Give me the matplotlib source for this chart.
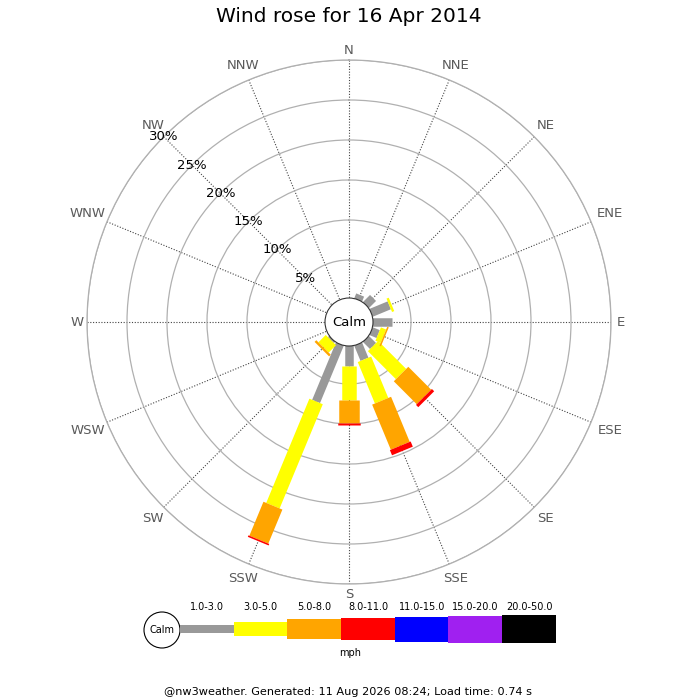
import numpy as np
import matplotlib
matplotlib.use("Agg")
import matplotlib.pyplot as plt
from matplotlib.patches import Circle, Rectangle


# wind directions, clockwise from north
directions = ["N", "NNE", "NE", "ENE", "E", "ESE", "SE", "SSE",
              "S", "SSW", "SW", "WSW", "W", "WNW", "NW", "NNW"]

# percentage of time per direction for each speed band (mph)
speed_bands = ["1.0-3.0", "3.0-5.0", "5.0-8.0", "8.0-11.0",
               "11.0-15.0", "15.0-20.0", "20.0-50.0"]
band_1_3 = [0, 0.9, 1.5, 2.7, 2.6, 1.2, 1.5, 2.3, 2.75, 8.0, 0.45, 0, 0, 0, 0, 0]
band_3_5 = [0, 0, 0, 0.3, 0, 0.7, 4.95, 5.6, 4.25, 14.1, 1.3, 0, 0, 0, 0, 0]
band_5_8 = [0, 0, 0, 0, 0, 0.2, 4.05, 6.1, 2.9, 4.6, 0.3, 0, 0, 0, 0, 0]
band_8_11 = [0, 0, 0, 0, 0, 0, 0.4, 0.7, 0.2, 0.2, 0, 0, 0, 0, 0, 0]

ring_ticks = [5, 10, 15, 20, 25, 30]
title = "Wind rose for 16 Apr 2014"
footer = "@nw3weather. Generated: 11 Aug 2026 08:24; Load time: 0.74 s"

band_colors = ["#999999", "#ffff00", "#ffa500", "#ff0000", "#0000ff", "#a020f0", "#000000"]
band_widths_px = [8.5, 14.5, 20.5, 22.5, 25, 27, 28]
PX = 0.72  # points per pixel at dpi 100

fig = plt.figure(figsize=(7, 7), dpi=100)

# overlay axes in pixel coordinates for title, legend and footer
over = fig.add_axes([0, 0, 1, 1])
over.set_xlim(0, 700)
over.set_ylim(700, 0)
over.axis("off")

# polar axes: center (349, 322), 30% ring at 262 px, 0% at 22 px
cx, cy, rout = 349, 322, 262
ax = fig.add_axes([(cx - rout) / 700, (700 - cy - rout) / 700, 2 * rout / 700, 2 * rout / 700],
                  projection="polar")
ax.set_theta_zero_location("N")
ax.set_theta_direction(-1)
ax.set_ylim(0, 30)
ax.set_rorigin(-2.75)
ax.set_axisbelow(True)

theta = np.deg2rad(np.arange(16) * 22.5)
ax.set_xticks(theta)
ax.set_xticklabels([])
ax.set_yticks(ring_ticks)
ax.set_yticklabels([])
ax.xaxis.grid(True, color="#444444", linestyle=(0, (1, 1.5)), linewidth=0.8)
ax.yaxis.grid(True, color="#b0b0b0", linestyle="-", linewidth=0.9)
ax.spines["polar"].set_color("#b0b0b0")
ax.spines["polar"].set_linewidth(0.9)
ax.spines["inner"].set_visible(False)
ax.tick_params(length=0)

# stacked bars drawn as thick radial lines
bands = [band_1_3, band_3_5, band_5_8, band_8_11]
start = np.zeros(16)
for band, color, width in zip(bands, band_colors, band_widths_px):
    band = np.array(band)
    for i in range(16):
        if band[i] > 0:
            ax.plot([theta[i], theta[i]], [start[i], start[i] + band[i]],
                    color=color, linewidth=width * PX, solid_capstyle="butt", zorder=3)
    start = start + band

# calm circle in the middle
calm_r = 24 / (2 * rout)
ax.add_patch(Circle((0.5, 0.5), calm_r, transform=ax.transAxes, facecolor="white",
                    edgecolor="#333333", linewidth=0.8, zorder=10, clip_on=False))
ax.text(0.5, 0.5, "Calm", transform=ax.transAxes, ha="center", va="center",
        fontsize=9.5, zorder=11, clip_on=False)

# percentage labels along the NW line
for pct in ring_ticks:
    ax.text(np.deg2rad(315), pct, f"{pct}%", ha="center", va="center",
            fontsize=9.5, color="black", zorder=4)

# direction labels outside the outer ring
for ang, name in zip(theta, directions):
    r_px = 267 + 5 * abs(np.cos(ang)) + 5 * len(name) * abs(np.sin(ang))
    ax.text(ang, (r_px - 22) / 8, name, ha="center", va="center",
            fontsize=9.5, color="#5a5a5a", clip_on=False)

# title and footer
over.text(349, 17, title, ha="center", va="center", fontsize=14.5)
over.text(348, 692, footer, ha="center", va="center", fontsize=8.1)

# legend
over.add_patch(Circle((162, 630), 18, facecolor="white", edgecolor="black", linewidth=0.8))
over.text(162, 630, "Calm", ha="center", va="center", fontsize=7)
seg_x = 180
seg_w = 53.7
for label, color, width in zip(speed_bands, band_colors, band_widths_px):
    over.add_patch(Rectangle((seg_x, 629 - width / 2), seg_w, width,
                             facecolor=color, edgecolor="none"))
    over.text(seg_x + seg_w / 2, 607, label, ha="center", va="center", fontsize=7)
    seg_x += seg_w
over.text(350, 653, "mph", ha="center", va="center", fontsize=7)

fig.savefig("out.png", dpi=100, facecolor="white")
